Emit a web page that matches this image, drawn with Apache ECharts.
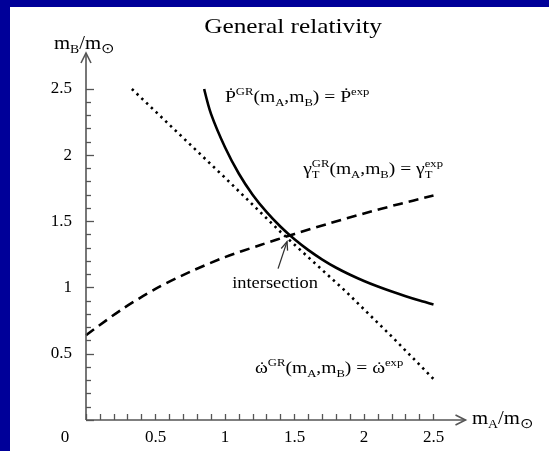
<!DOCTYPE html>
<html>
<head>
<meta charset="utf-8">
<script src="https://cdn.jsdelivr.net/npm/echarts@6/dist/echarts.min.js"></script>
<style>
  html, body { margin: 0; padding: 0; background: #000099; width: 549px; height: 451px; overflow: hidden; }
  #main { position: absolute; left: 10px; top: 7px; width: 539px; height: 444px; background: #ffffff; }
</style>
</head>
<body>
<div id="main"></div>
<script>
// Axis ticks and their labels
const xTicks = [0, 0.5, 1, 1.5, 2, 2.5];
const xTickLabels = ['0', '0.5', '1', '1.5', '2', '2.5'];
const yTicks = [0, 0.5, 1, 1.5, 2, 2.5];
const yTickLabels = ['', '0.5', '1', '1.5', '2', '2.5'];

// Orbital period decay constraint (solid)
const pdotX = [0.85, 0.9, 1.0, 1.1, 1.2, 1.3, 1.4, 1.5, 1.6, 1.7, 1.8, 1.9, 2.0, 2.1, 2.2, 2.3, 2.4, 2.5];
const pdotY = [2.5, 2.31, 2.06, 1.86, 1.70, 1.57, 1.46, 1.365, 1.283, 1.212, 1.15, 1.097, 1.050, 1.008, 0.970, 0.935, 0.902, 0.872];

// Einstein delay constraint (dashed)
const gammaX = [0, 0.25, 0.5, 0.75, 1.0, 1.25, 1.5, 1.75, 2.0, 2.25, 2.5];
const gammaY = [0.64, 0.83, 0.99, 1.12, 1.23, 1.32, 1.405, 1.485, 1.56, 1.63, 1.695];

// Periastron advance constraint (dotted)
const omegaX = [0.33, 0.6, 1.0, 1.4, 1.87, 2.2, 2.5];
const omegaY = [2.5, 2.23, 1.83, 1.42, 0.97, 0.63, 0.31];

// Common solution of the three constraints
const intersection = [1.45, 1.40];

const zip = (xs, ys) => xs.map((x, i) => [x, ys[i]]);

const FONT = '"Liberation Serif", "Times New Roman", serif';
const INK = '#000000';
const AXIS = '#555555';
const OX = 10, OY = 7;          // page offset of the white panel
const SX = 1.15;                // horizontal stretch of the lettering

const chart = echarts.init(document.getElementById('main'), null, { renderer: 'canvas' });

const tickStyle = { color: AXIS, width: 1.3 };
const labelBase = { color: INK, fontFamily: FONT, fontSize: 17 };

chart.setOption({
  animation: false,
  grid: { left: 86 - OX, top: 89 - OY, right: 549 - 433.5, bottom: 451 - 420, containLabel: false, outerBoundsMode: 'none' },
  xAxis: {
    type: 'value', min: xTicks[0], max: xTicks[xTicks.length - 1], interval: xTicks[1] - xTicks[0],
    axisLine: { show: false },
    splitLine: { show: false },
    axisTick: { show: true, inside: true, length: 6, lineStyle: tickStyle },
    minorTick: { show: true, splitNumber: 5, length: 6, lineStyle: tickStyle },
    axisLabel: Object.assign({}, labelBase, {
      margin: 9,
      formatter: v => {
        const s = xTickLabels[xTicks.indexOf(v)] ?? '';
        return v === 0 ? '{z|' + s + '}' : s;
      },
      rich: { z: Object.assign({}, labelBase, { padding: [0, 42, 0, 0] }) }
    })
  },
  yAxis: {
    type: 'value', min: yTicks[0], max: yTicks[yTicks.length - 1], interval: yTicks[1] - yTicks[0],
    axisLine: { show: false },
    splitLine: { show: false },
    axisTick: { show: true, inside: true, length: 8, lineStyle: tickStyle },
    minorTick: { show: true, splitNumber: 5, length: 5, lineStyle: tickStyle },
    axisLabel: Object.assign({}, labelBase, {
      margin: 14,
      formatter: v => yTickLabels[yTicks.indexOf(v)] ?? ''
    })
  },
  series: [
    {
      name: 'Pdot', type: 'line', data: zip(pdotX, pdotY), smooth: 0.3,
      symbol: 'none', lineStyle: { color: INK, width: 2.6 }, z: 3
    },
    {
      name: 'gamma', type: 'line', data: zip(gammaX, gammaY), smooth: 0.3,
      symbol: 'none', lineStyle: { color: INK, width: 2.6, type: [10, 6] }, z: 3
    },
    {
      name: 'omega', type: 'line', data: zip(omegaX, omegaY), smooth: false,
      symbol: 'none', lineStyle: { color: INK, width: 2.6, type: [2.4, 4.2], cap: 'butt' }, z: 3
    }
  ]
});

// ---- lettering with sub/superscripts ----
const mctx = document.createElement('canvas').getContext('2d');
function tw(s, size) { mctx.font = size + 'px ' + FONT; return mctx.measureText(s).width; }

function mathText(pieces, size) {
  const small = Math.round(size * 0.66);
  const up = size * 0.34, down = size * 0.3;
  const kids = [];
  let cx = 0;
  const put = (s, x, y, fs, align) => kids.push({
    type: 'text', x: x, y: y,
    style: { text: s, font: fs + 'px ' + FONT, fill: INK, textAlign: align || 'left', align: align || 'left', textVerticalAlign: 'middle', verticalAlign: 'middle' }
  });
  pieces.forEach(pc => {
    const k = pc[0];
    const fs = typeof pc[2] === 'number' ? pc[2] : null;
    if (k === 'n') { put(pc[1], cx, 0, size); cx += tw(pc[1], size); }
    else if (k === 'dot') {
      // letter with an overdot (time derivative); pc[2] = extra lift for capitals
      const w = tw(pc[1], size);
      put(pc[1], cx, 0, size);
      put('\u02D9', cx + w / 2 + 0.5, -(fs || 0) * size, size, 'center');
      cx += w;
    }
    else if (k === 'sup') { put(pc[1], cx, -up, fs || small); cx += tw(pc[1], fs || small); }
    else if (k === 'sub') { put(pc[1], cx, down, fs || small); cx += tw(pc[1], fs || small); }
    else { put(pc[1], cx, -up, small); put(pc[2], cx, down, small); cx += Math.max(tw(pc[1], small), tw(pc[2], small)); }
  });
  return { kids, width: cx };
}

// anchor: 'left' | 'right' | 'center', (x, y) page coordinates of anchor / text middle
function label(pieces, size, x, y, anchor) {
  const m = mathText(pieces, size);
  let left = x;
  if (anchor === 'right') left = x - m.width * SX;
  else if (anchor === 'center') left = x - m.width * SX / 2;
  return { type: 'group', x: left - OX, y: y - OY, scaleX: SX, children: m.kids };
}

function poly(points, width, color) {
  return {
    type: 'polyline', shape: { points: points.map(p => [p[0] - OX, p[1] - OY]) },
    style: { stroke: color || AXIS, lineWidth: width, fill: null }, z: 5
  };
}

const toPx = (x, y) => {
  const p = chart.convertToPixel({ gridIndex: 0 }, [x, y]);
  return [p[0] + OX, p[1] + OY];
};

const origin = toPx(0, 0);
const xEnd = toPx(xTicks[xTicks.length - 1], 0);
const yEnd = toPx(0, yTicks[yTicks.length - 1]);
const xTip = [xEnd[0] + 32, origin[1]];
const yTip = [origin[0], yEnd[1] - 36];

const ix = toPx(intersection[0], intersection[1]);
const aTip = [ix[0] - 0.5, ix[1] + 7];
const aTail = [aTip[0] - 9, aTip[1] + 27];
const ang = Math.atan2(aTail[1] - aTip[1], aTail[0] - aTip[0]);
const head = (d) => [aTip[0] + 9 * Math.cos(ang + d), aTip[1] + 9 * Math.sin(ang + d)];

const graphics = [
  // axes with open arrowheads
  poly([origin, xTip], 1.6),
  poly([[xTip[0] - 10, xTip[1] - 5], xTip, [xTip[0] - 10, xTip[1] + 5]], 1.6),
  poly([origin, yTip], 1.6),
  poly([[yTip[0] - 5, yTip[1] + 10], yTip, [yTip[0] + 5, yTip[1] + 10]], 1.6),
  // pointer to the common solution
  poly([aTail, aTip], 1.3, '#333'),
  poly([head(0.38), aTip, head(-0.38)], 1.3, '#333'),
  // title
  label([['n', 'General relativity']], 22, 293, 27, 'center'),
  // axis names
  label([['n', 'm'], ['sub', 'B'], ['n', '/m'], ['sub', '\u2299', 14]], 18, 54, 44, 'left'),
  label([['n', 'm'], ['sub', 'A'], ['n', '/m'], ['sub', '\u2299', 14]], 18, 472, 419, 'left'),
  // curve annotations
  label([['dot', 'P', 0.2], ['sup', 'GR'], ['n', '(m'], ['sub', 'A'], ['n', ',m'], ['sub', 'B'], ['n', ') = '], ['dot', 'P', 0.2], ['sup', 'exp']], 17, 225, 98, 'left'),
  label([['n', '\u03B3'], ['ss', 'GR', 'T'], ['n', '(m'], ['sub', 'A'], ['n', ',m'], ['sub', 'B'], ['n', ') = \u03B3'], ['ss', 'exp', 'T']], 17, 443, 170, 'right'),
  label([['dot', '\u03C9', 0.02], ['sup', 'GR'], ['n', '(m'], ['sub', 'A'], ['n', ',m'], ['sub', 'B'], ['n', ') = '], ['dot', '\u03C9', 0.02], ['sup', 'exp']], 17, 255, 369, 'left'),
  label([['n', 'intersection']], 16, 318, 284, 'right')
];

chart.setOption({ graphic: graphics });
</script>
</body>
</html>
